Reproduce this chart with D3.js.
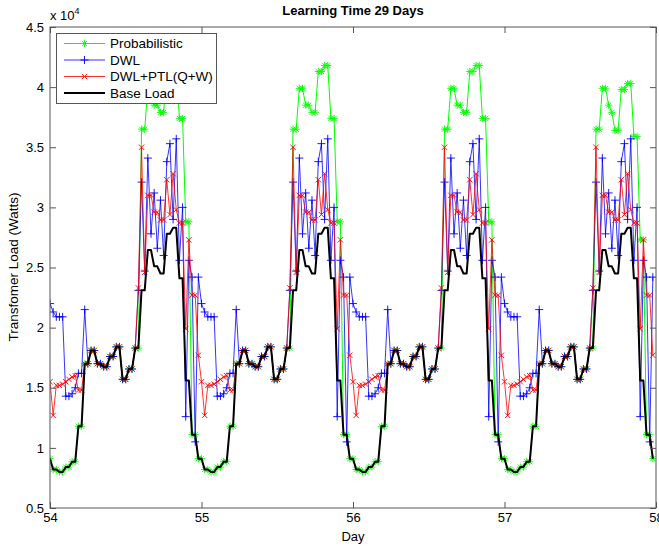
<!DOCTYPE html>
<html lang="en">
<head>
<meta charset="UTF-8">
<title>Learning Time 29 Days</title>
<script src="https://d3js.org/d3.v7.min.js"></script>
<style>
  body { margin: 0; background: #fff; }
  svg { font-family: "Liberation Sans", Arial, sans-serif; }
</style>
</head>
<body>
<div id="chart"></div>
<script>
// loads in units of 10^4 W, one reading every 30 minutes (48 per day)
var days = [54, 55, 56, 57];
var xTicks = [54, 55, 56, 57, 58];
var yTicks = [0.5, 1, 1.5, 2, 2.5, 3, 3.5, 4, 4.5];

var baseDay = [0.91, 0.82, 0.82, 0.80, 0.80, 0.84, 0.84, 0.885, 0.885, 1.18, 1.18, 1.70, 1.70,
    1.81, 1.81, 1.70, 1.70, 1.675, 1.675, 1.76, 1.76, 1.84, 1.84, 1.57, 1.57, 1.656, 1.656,
    1.83, 1.83, 2.31, 2.31, 2.645, 2.645, 2.51, 2.51, 2.45, 2.45, 2.78, 2.78, 2.83, 2.83,
    2.41, 2.41, 1.56, 1.56, 1.11, 1.11, 0.91];

var probDay = [0.91, 0.82, 0.82, 0.80, 0.80, 0.84, 0.84, 0.885, 0.885, 1.18, 1.18, 1.70, 1.70,
    1.81, 1.81, 1.70, 1.70, 1.675, 1.675, 1.76, 1.76, 1.84, 1.84, 1.57, 1.57, 1.656, 1.656,
    1.83, 1.83, 3.65, 3.65, 3.99, 3.99, 3.85, 3.85, 3.79, 3.79, 4.13, 4.13, 4.18, 4.18,
    3.74, 3.74, 2.88, 2.88, 1.11, 1.11, 0.91];

var probLastDay = [0.91, 0.82, 0.82, 0.80, 0.80, 0.84, 0.84, 0.885, 0.885, 1.18, 1.18, 1.70, 1.70,
    1.81, 1.81, 1.70, 1.70, 1.675, 1.675, 1.76, 1.76, 1.84, 1.84, 1.57, 1.57, 1.656, 1.656,
    1.83, 1.83, 3.65, 3.65, 3.99, 3.99, 3.85, 3.79, 3.64, 3.64, 3.98, 3.98, 4.03, 4.03,
    3.59, 3.59, 2.73, 2.73, 1.11, 1.11, 0.91];

var dwlDay = [2.20, 2.13, 2.09, 2.09, 2.09, 1.43, 1.43, 1.45, 1.50, 1.62, 1.62, 2.15, 1.70,
    1.81, 1.81, 1.70, 1.70, 1.675, 1.675, 1.76, 1.76, 1.84, 1.84, 1.57, 1.57, 1.656, 1.656,
    1.83, 2.31, 3.21, 2.47, 3.41, 2.78, 3.12, 2.66, 3.06, 2.60, 3.38, 3.53, 2.90, 3.57,
    2.56, 3.00, 1.26, 2.56, 2.42, 1.05, 2.42];

var ptlDay = [1.55, 1.27, 1.52, 1.52, 1.53, 1.55, 1.57, 1.59, 1.60, 1.48, 1.48, 1.70, 1.70,
    1.81, 1.81, 1.70, 1.70, 1.675, 1.675, 1.76, 1.76, 1.84, 1.84, 1.57, 1.57, 1.656, 1.656,
    1.83, 2.33, 3.50, 2.46, 3.10, 3.10, 2.96, 2.96, 2.895, 2.895, 3.23, 2.94, 3.28, 2.98,
    2.87, 2.87, 1.99, 2.73, 2.27, 2.27, 1.77];

// one profile per day, in the order of `days`
var probabilistic = [probDay, probDay, probDay, probLastDay];
var dwl = [dwlDay, dwlDay, dwlDay, dwlDay];
var dwlPtl = [ptlDay, ptlDay, ptlDay, ptlDay];
var baseLoad = [baseDay, baseDay, baseDay, baseDay];

function toPoints(perDay) {
    var pts = [];
    days.forEach(function(d, k) {
        perDay[k].forEach(function(v, i) {
            pts.push({t: d + i / 48, v: v});
        });
    });
    return pts;
}

var series = [
    {name: "Probabilistic", color: "#00ff00", marker: "star", width: 1, data: toPoints(probabilistic)},
    {name: "DWL", color: "#0000ff", marker: "plus", width: 0.8, data: toPoints(dwl)},
    {name: "DWL+PTL(Q+W)", color: "#ff0000", marker: "cross", width: 0.8, data: toPoints(dwlPtl)},
    {name: "Base Load", color: "#000000", marker: null, width: 2, data: toPoints(baseLoad)}
];

var svg = d3.select("#chart").append("svg")
    .attr("width", 659)
    .attr("height", 546);

var x = d3.scaleLinear().domain([54, 58]).range([50, 656]);
var y = d3.scaleLinear().domain([0.5, 4.5]).range([508, 27]);

// marker shapes
function markerPath(type, cx, cy) {
    if (type === "plus") {
        var r = 4;
        return "M" + (cx - r) + "," + cy + "H" + (cx + r) + "M" + cx + "," + (cy - r) + "V" + (cy + r);
    }
    if (type === "cross") {
        var c = 2.7;
        return "M" + (cx - c) + "," + (cy - c) + "L" + (cx + c) + "," + (cy + c) +
               "M" + (cx - c) + "," + (cy + c) + "L" + (cx + c) + "," + (cy - c);
    }
    var s = 3.6, d = 2.6;
    return "M" + (cx - s) + "," + cy + "H" + (cx + s) + "M" + cx + "," + (cy - s) + "V" + (cy + s) +
           "M" + (cx - d) + "," + (cy - d) + "L" + (cx + d) + "," + (cy + d) +
           "M" + (cx - d) + "," + (cy + d) + "L" + (cx + d) + "," + (cy - d);
}

var plot = svg.append("g");
plot.append("clipPath").attr("id", "clip")
    .append("rect").attr("x", 50).attr("y", 27).attr("width", 606).attr("height", 481);

var line = d3.line()
    .x(function(d) { return x(d.t); })
    .y(function(d) { return y(d.v); });

series.forEach(function(s) {
    var g = plot.append("g").attr("clip-path", "url(#clip)");
    g.append("path")
        .datum(s.data)
        .attr("fill", "none")
        .attr("stroke", s.color)
        .attr("stroke-width", s.width)
        .attr("stroke-linejoin", "round")
        .attr("d", line);
    if (s.marker) {
        g.selectAll(".m")
            .data(s.data)
            .enter().append("path")
            .attr("class", "m")
            .attr("fill", "none")
            .attr("stroke", s.color)
            .attr("stroke-width", 0.9)
            .attr("d", function(d) { return markerPath(s.marker, x(d.t), y(d.v)); });
    }
});

// axes box with inward ticks on all sides
var axisColor = "#555";
svg.append("rect")
    .attr("x", 50).attr("y", 27).attr("width", 606).attr("height", 481)
    .attr("fill", "none").attr("stroke", axisColor).attr("stroke-width", 1);

function styleAxis(g) {
    g.select(".domain").remove();
    g.selectAll("line").attr("stroke", axisColor);
    g.selectAll("text").attr("fill", "#000").style("font-size", "13px");
}

svg.append("g")
    .attr("transform", "translate(0,508)")
    .call(d3.axisBottom(x).tickValues(xTicks).tickSizeInner(-6).tickSizeOuter(0).tickPadding(5)
        .tickFormat(function(d) { return String(d); }))
    .call(styleAxis);

svg.append("g")
    .attr("transform", "translate(0,27)")
    .call(d3.axisTop(x).tickValues(xTicks).tickSizeInner(-6).tickSizeOuter(0).tickFormat(""))
    .call(styleAxis);

svg.append("g")
    .attr("transform", "translate(50,0)")
    .call(d3.axisLeft(y).tickValues(yTicks).tickSizeInner(-6).tickSizeOuter(0).tickPadding(6)
        .tickFormat(function(d) { return String(d); }))
    .call(styleAxis);

svg.append("g")
    .attr("transform", "translate(656,0)")
    .call(d3.axisRight(y).tickValues(yTicks).tickSizeInner(-6).tickSizeOuter(0).tickFormat(""))
    .call(styleAxis);

// exponent label
var expo = svg.append("text")
    .attr("x", 50)
    .attr("y", 20)
    .style("font-size", "13px");
expo.append("tspan").text("x 10");
expo.append("tspan").attr("dy", -6).style("font-size", "9px").text("4");

// title and axis labels
svg.append("text")
    .attr("x", 353)
    .attr("y", 15)
    .attr("text-anchor", "middle")
    .style("font-size", "13px")
    .style("font-weight", "bold")
    .text("Learning Time 29 Days");

svg.append("text")
    .attr("x", 353)
    .attr("y", 541)
    .attr("text-anchor", "middle")
    .style("font-size", "13px")
    .text("Day");

svg.append("text")
    .attr("transform", "translate(18,267) rotate(-90)")
    .attr("text-anchor", "middle")
    .style("font-size", "13.5px")
    .text("Transfomer Load (Watts)");

// legend
var legend = svg.append("g");
legend.append("rect")
    .attr("x", 56.5).attr("y", 33.5).attr("width", 160).attr("height", 70)
    .attr("fill", "#fff").attr("stroke", axisColor).attr("stroke-width", 1);

series.forEach(function(s, i) {
    var ly = 43.5 + i * 16.5;
    legend.append("line")
        .attr("x1", 64).attr("x2", 105).attr("y1", ly).attr("y2", ly)
        .attr("stroke", s.color).attr("stroke-width", s.width);
    if (s.marker) {
        legend.append("path")
            .attr("fill", "none").attr("stroke", s.color).attr("stroke-width", 0.9)
            .attr("d", markerPath(s.marker, 84.5, ly));
    }
    legend.append("text")
        .attr("x", 110).attr("y", ly).attr("dy", "0.35em")
        .style("font-size", "13.5px")
        .text(s.name);
});
</script>
</body>
</html>
